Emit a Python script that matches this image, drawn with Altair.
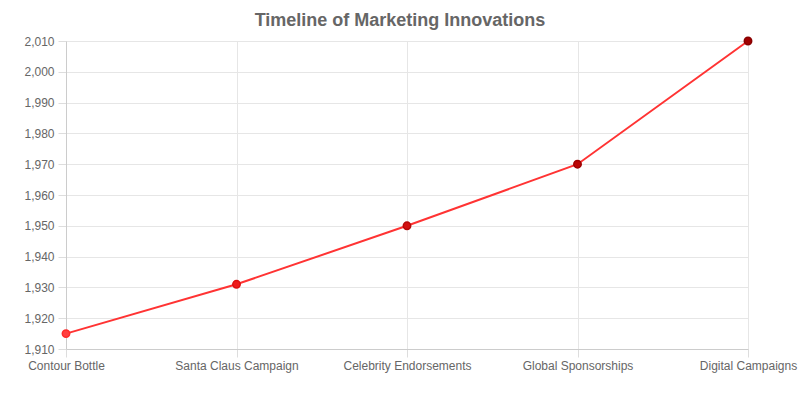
import altair as alt
import pandas as pd

milestones = ["Contour Bottle", "Santa Claus Campaign", "Celebrity Endorsements",
              "Global Sponsorships", "Digital Campaigns"]
years = [1915, 1931, 1950, 1970, 2010]
point_colors = ["#ff4040", "#ee1c1c", "#d21010", "#bb0505", "#a00000"]
point_strokes = ["#ff2a2a", "#dd1010", "#b50808", "#a00000", "#880000"]

df = pd.DataFrame({"milestone": milestones, "year": years})

x = alt.X("milestone:N", sort=milestones, title=None,
          scale=alt.Scale(type="point", padding=0),
          axis=alt.Axis(labelAngle=0, labelFont="Liberation Sans", labelFontSize=12,
                        labelColor="#666666", tickSize=8, tickColor="#dddddd",
                        labelPadding=3, domainColor="#cccccc", gridColor="#e6e6e6",
                        grid=True))
y = alt.Y("year:Q", title=None,
          scale=alt.Scale(domain=[1910, 2010], nice=False, zero=False),
          axis=alt.Axis(values=list(range(1910, 2011, 10)), format=",.0f",
                        labelFont="Liberation Sans", labelFontSize=12,
                        labelColor="#666666", tickSize=8, tickColor="#dddddd",
                        labelPadding=4, domainColor="#cccccc", gridColor="#e6e6e6",
                        grid=True))

line = alt.Chart(df).mark_line(color="#ff3333", strokeWidth=2).encode(x=x, y=y)
points = alt.Chart(df).mark_circle(size=55, opacity=1, strokeWidth=1.5).encode(
    x=x, y=y,
    color=alt.Color("milestone:N", sort=milestones, legend=None,
                    scale=alt.Scale(domain=milestones, range=point_colors)),
    stroke=alt.Stroke("milestone:N", sort=milestones, legend=None,
                      scale=alt.Scale(domain=milestones, range=point_strokes)),
)

chart = (line + points).properties(
    width=682, height=308,
    autosize=alt.AutoSizeParams(type="none"),
    padding={"left": 66, "top": 41, "right": 52, "bottom": 51},
    title=alt.TitleParams("Timeline of Marketing Innovations", font="Liberation Sans",
                          fontSize=18, fontWeight="bold", color="#666666",
                          anchor="middle", offset=4, dx=-7),
).configure_view(stroke=None).configure(background="white")

chart.save("out.html", embed_options={"renderer": "svg", "actions": False})
